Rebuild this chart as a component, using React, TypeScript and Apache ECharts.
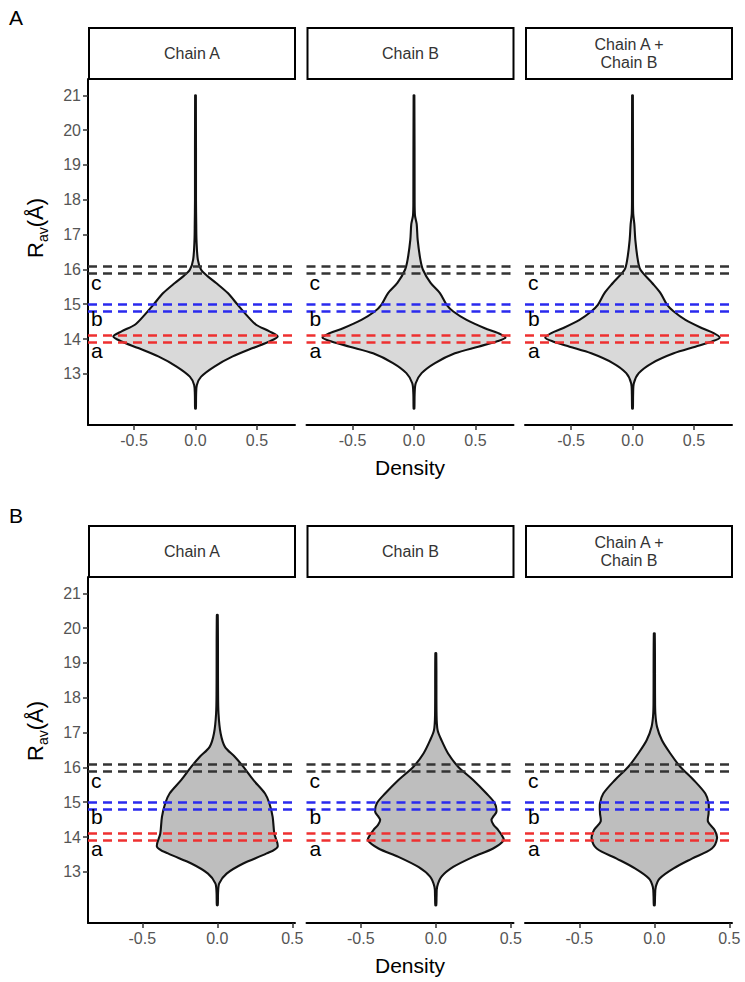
import React, { useEffect, useRef } from "react";
import * as echarts from "echarts";

// ---------- data ----------
const panelTitles = ["Chain A", "Chain B", "Chain A +\nChain B"];
const rowLetters = ["A", "B"];
const yTicks = [13, 14, 15, 16, 17, 18, 19, 20, 21];
const xTicks = [-0.5, 0, 0.5];
const cutoffBlack = [16.1, 15.9];
const cutoffBlue = [15.0, 14.8];
const cutoffRed = [14.12, 13.92];
const zoneLabels = ["c", "b", "a"];
const zoneLabelY = [15.62, 14.58, 13.66];

// Row A (violin half-widths, density units) at R_av values
const yA_chainA = [12.0, 12.4, 12.68, 12.92, 13.21, 13.5, 13.74, 13.93, 14.07, 14.22, 14.41, 14.65, 14.98, 15.32, 15.61, 15.8, 15.99, 16.28, 16.85, 17.3, 18.0, 21.0];
const wA_chainA = [0.003, 0.005, 0.011, 0.046, 0.154, 0.303, 0.466, 0.602, 0.669, 0.602, 0.493, 0.425, 0.344, 0.263, 0.168, 0.1, 0.046, 0.019, 0.008, 0.006, 0.004, 0.003];

const yA_chainB = [12.0, 12.4, 12.73, 13.02, 13.31, 13.59, 13.78, 13.93, 14.04, 14.17, 14.31, 14.55, 14.79, 14.98, 15.32, 15.61, 15.99, 16.28, 16.85, 17.3, 17.55, 18.0, 21.0];
const wA_chainB = [0.003, 0.005, 0.014, 0.062, 0.171, 0.333, 0.523, 0.672, 0.745, 0.686, 0.577, 0.428, 0.32, 0.266, 0.211, 0.135, 0.073, 0.052, 0.03, 0.022, 0.008, 0.005, 0.003];

const yA_chainAB = [12.0, 12.4, 12.73, 13.02, 13.31, 13.59, 13.78, 13.93, 14.04, 14.17, 14.31, 14.55, 14.79, 14.98, 15.32, 15.61, 15.99, 16.28, 16.85, 17.3, 17.6, 18.0, 21.0];
const wA_chainAB = [0.003, 0.005, 0.011, 0.051, 0.16, 0.336, 0.512, 0.648, 0.71, 0.661, 0.567, 0.431, 0.336, 0.282, 0.228, 0.16, 0.065, 0.043, 0.023, 0.015, 0.006, 0.004, 0.003];

// Row B
const yB_chainA = [12.04, 12.4, 12.67, 12.95, 13.24, 13.53, 13.72, 14.1, 14.58, 14.97, 15.25, 15.64, 16.02, 16.3, 16.59, 16.98, 17.55, 18.2, 20.38];
const wB_chainA = [0.003, 0.005, 0.013, 0.062, 0.173, 0.329, 0.402, 0.38, 0.369, 0.347, 0.318, 0.24, 0.173, 0.118, 0.051, 0.022, 0.008, 0.005, 0.003];

const yB_chainB = [12.04, 12.3, 12.57, 12.86, 13.14, 13.43, 13.67, 13.91, 14.05, 14.2, 14.35, 14.49, 14.6, 14.72, 14.97, 15.25, 15.64, 16.02, 16.4, 16.78, 17.07, 17.5, 19.28];
const wB_chainB = [0.003, 0.005, 0.009, 0.038, 0.116, 0.249, 0.382, 0.453, 0.44, 0.416, 0.385, 0.371, 0.385, 0.404, 0.393, 0.338, 0.249, 0.149, 0.082, 0.038, 0.012, 0.005, 0.003];

const yB_chainAB = [12.04, 12.3, 12.57, 12.81, 13.1, 13.38, 13.67, 13.96, 14.2, 14.44, 14.68, 14.97, 15.25, 15.64, 16.02, 16.4, 16.78, 17.17, 17.55, 18.0, 19.85];
const wB_chainAB = [0.003, 0.005, 0.01, 0.036, 0.129, 0.251, 0.384, 0.418, 0.402, 0.358, 0.362, 0.362, 0.34, 0.262, 0.173, 0.107, 0.051, 0.018, 0.007, 0.005, 0.003];

const profiles = [
  [[yA_chainA, wA_chainA], [yA_chainB, wA_chainB], [yA_chainAB, wA_chainAB]],
  [[yB_chainA, wB_chainA], [yB_chainB, wB_chainB], [yB_chainAB, wB_chainAB]],
];

// ---------- layout ----------
const FONT = '"Liberation Sans", Arial, Helvetica, sans-serif';
const colLefts = [88, 306.5, 525];
const panelW = 207;
const rowTops = [79, 577];
const panelH = 346;
const stripH = 51;
const rowXRange = [
  [-0.875, 0.81],
  [-0.862, 0.518],
];
const yRange = [11.53, 21.47];
const violinFill = ["#d9d9d9", "#bebebe"];

export default function App() {
  const ref = useRef<HTMLDivElement>(null);

  useEffect(() => {
    if (!ref.current) return;
    const chart = echarts.init(ref.current, null, { renderer: "svg" });

    const grids: any[] = [];
    const xAxes: any[] = [];
    const yAxes: any[] = [];
    const series: any[] = [];
    const graphics: any[] = [];

    for (let r = 0; r < 2; r++) {
      for (let c = 0; c < 3; c++) {
        const idx = r * 3 + c;
        const [xmin, xmax] = rowXRange[r];
        grids.push({ left: colLefts[c], top: rowTops[r], width: panelW, height: panelH });
        xAxes.push({
          type: "value",
          gridIndex: idx,
          min: xmin,
          max: xmax,
          splitLine: { show: false },
          axisLine: { show: true, onZero: false, lineStyle: { color: "#000", width: 2 } },
          axisTick: { show: true, customValues: xTicks, length: 5, lineStyle: { color: "#333", width: 1.5 } },
          axisLabel: {
            customValues: xTicks,
            formatter: (v: number) => v.toFixed(1),
            color: "#555",
            fontSize: 16,
            fontFamily: FONT,
            margin: 7,
          },
        });
        yAxes.push({
          type: "value",
          gridIndex: idx,
          min: yRange[0],
          max: yRange[1],
          show: c === 0,
          splitLine: { show: false },
          axisLine: { show: c === 0, onZero: false, lineStyle: { color: "#000", width: 2 } },
          axisTick: { show: c === 0, customValues: yTicks, length: 5, lineStyle: { color: "#333", width: 1.5 } },
          axisLabel: {
            show: c === 0,
            customValues: yTicks,
            color: "#555",
            fontSize: 16,
            fontFamily: FONT,
            margin: 7,
          },
        });

        const [ys, ws] = profiles[r][c] as number[][];
        const fill = violinFill[r];
        series.push({
          type: "custom",
          xAxisIndex: idx,
          yAxisIndex: idx,
          z: 2,
          silent: true,
          data: ys.map((y, i) => [ws[i], y]),
          renderItem: (params: any, api: any) => {
            if (params.dataIndex !== 0) return null;
            const pts: number[][] = [];
            for (let i = 0; i < ys.length; i++) pts.push(api.coord([ws[i], ys[i]]));
            for (let i = ys.length - 1; i >= 0; i--) pts.push(api.coord([-ws[i], ys[i]]));
            return {
              type: "polygon",
              shape: { points: pts, smooth: 0.3 },
              style: { fill, stroke: "#111", lineWidth: 2.1 },
            };
          },
        });

        const dash = (color: string) => ({ color, width: 2.7, type: [9, 6], opacity: 1 });
        series.push({
          type: "custom",
          xAxisIndex: idx,
          yAxisIndex: idx,
          z: 5,
          silent: true,
          data: zoneLabelY.map((y) => [xmin, y]),
          renderItem: (params: any, api: any) => {
            const p = api.coord([api.value(0), api.value(1)]);
            return {
              type: "text",
              x: p[0] + 3,
              y: p[1],
              style: {
                text: zoneLabels[params.dataIndex],
                fill: "#000",
                fontSize: 21,
                fontFamily: FONT,
                align: "left",
                verticalAlign: "middle",
              },
            };
          },
          markLine: {
            silent: true,
            symbol: "none",
            label: { show: false },
            animation: false,
            data: [
              ...cutoffBlack.map((v) => ({ yAxis: v, lineStyle: dash("#333333") })),
              ...cutoffBlue.map((v) => ({ yAxis: v, lineStyle: dash("#2a2aee") })),
              ...cutoffRed.map((v) => ({ yAxis: v, lineStyle: dash("#ee3030") })),
            ],
          },
        });

        // strip
        graphics.push({
          type: "rect",
          shape: { x: colLefts[c] + 1, y: rowTops[r] - stripH, width: panelW - 1, height: stripH },
          style: { fill: "#fff", stroke: "#000", lineWidth: 2 },
        });
        graphics.push({
          type: "text",
          x: colLefts[c] + 1 + (panelW - 1) / 2,
          y: rowTops[r] - stripH / 2,
          style: {
            text: panelTitles[c],
            fill: "#333",
            fontSize: 16,
            fontFamily: FONT,
            align: "center",
            verticalAlign: "middle",
            lineHeight: 18,
          },
        });
      }

      // row letters
      graphics.push({
        type: "text",
        x: 16,
        y: rowTops[r] - 62,
        style: { text: rowLetters[r], fill: "#000", fontSize: 21, fontFamily: FONT, align: "center", verticalAlign: "middle" },
      });
      // x title
      graphics.push({
        type: "text",
        x: 410,
        y: rowTops[r] + panelH + 42,
        style: { text: "Density", fill: "#000", fontSize: 21, fontFamily: FONT, align: "center", verticalAlign: "middle" },
      });
      // y title R_av(Å)
      const startY = r === 0 ? 258 : 761;
      graphics.push({
        type: "group",
        x: 35.5,
        y: startY,
        rotation: Math.PI / 2,
        children: [
          { type: "text", x: 0, y: 0, style: { text: "R", fill: "#000", fontSize: 22, fontFamily: FONT, align: "left", verticalAlign: "middle" } },
          { type: "text", x: 15.9, y: 7, style: { text: "av", fill: "#000", fontSize: 14, fontFamily: FONT, align: "left", verticalAlign: "middle" } },
          { type: "text", x: 30.7, y: 0, style: { text: "(Å)", fill: "#000", fontSize: 22, fontFamily: FONT, align: "left", verticalAlign: "middle" } },
        ],
      });
    }

    chart.setOption({
      animation: false,
      backgroundColor: "#fff",
      grid: grids,
      xAxis: xAxes,
      yAxis: yAxes,
      series,
      graphic: { elements: graphics },
    });

    return () => chart.dispose();
  }, []);

  return <div ref={ref} style={{ position: "fixed", left: 0, top: 0, width: 745, height: 982 }} />;
}
